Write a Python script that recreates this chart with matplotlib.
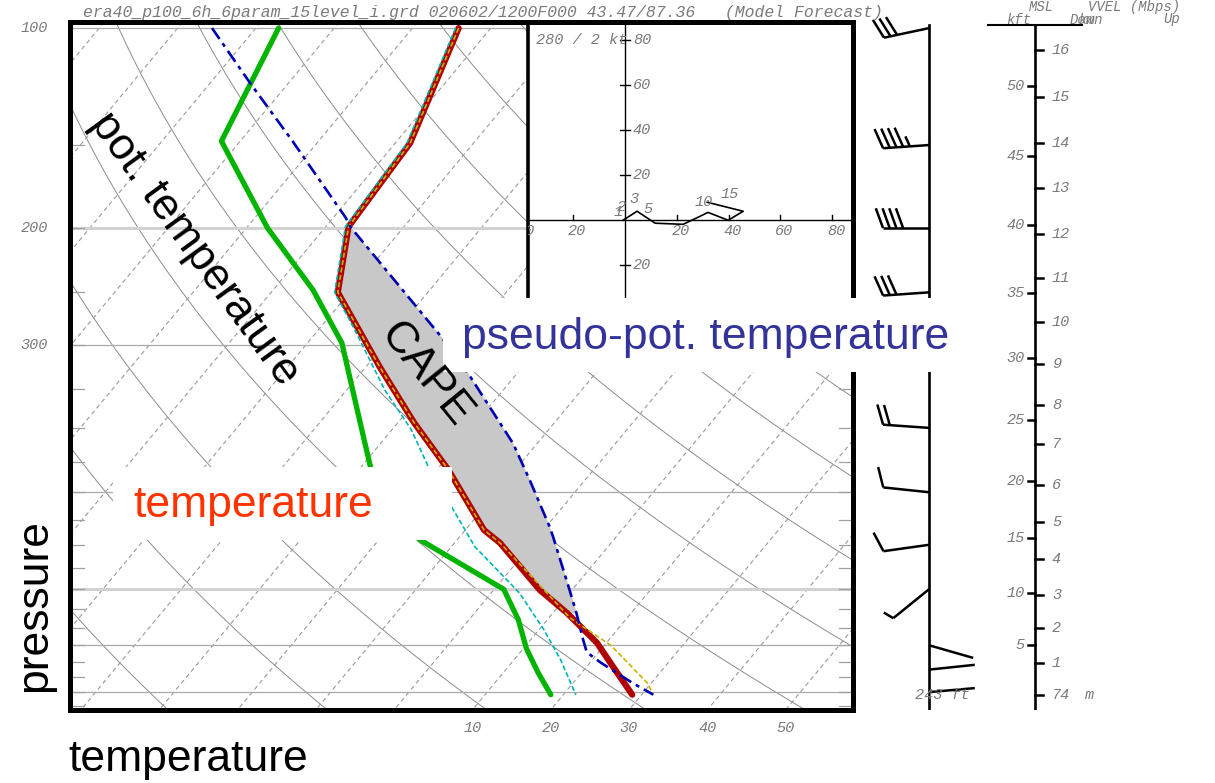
import numpy as np
import matplotlib
matplotlib.use("Agg")
import matplotlib.pyplot as plt
from matplotlib.patches import Rectangle

plt.rcParams['font.family'] = ['Liberation Sans', 'DejaVu Sans']

W, H = 1215, 783
P_BOT, P_TOP = 1064.0, 97.9
SKEW = 30.6          # deg C shift per unit of ln p
PX_LNP = 688 / np.log(P_BOT / P_TOP)

# --- sounding, pressure in hPa, temperature in deg C ---
temp_p = [100, 149, 199, 250, 324, 393, 463, 570, 596, 702, 760, 843, 916, 1009]
temp_t = [-64.1, -58.1, -57.1, -51.5, -38.2, -27.9, -18.5, -7.6, -4.2, 5.9, 11.8, 18.8, 23.4, 28.8]

dew_p = [100, 148, 200, 248, 298, 399, 458, 590, 700, 778, 860, 934, 1009]
dew_t = [-87.1, -82.4, -67.3, -54.9, -45.6, -34.2, -28.8, -14.7, 1.2, 6.3, 10.4, 14.4, 18.4]

wetb_p = [100, 149, 199, 250, 285, 351, 402, 458, 528, 604, 709, 805, 893, 1009]
wetb_t = [-64.5, -58.5, -57.5, -51.9, -45.3, -35.1, -27.6, -21.4, -14.0, -7.0, 3.6, 10.6, 15.9, 21.6]

virt_p = [100, 149, 199, 250, 324, 393, 463, 570, 596, 709, 773, 851, 969, 1003]
virt_t = [-64.1, -58.1, -57.1, -51.5, -38.2, -27.9, -18.5, -7.6, -4.2, 7.1, 12.7, 20.9, 29.5, 31.2]

parcel_p = [100, 121, 147, 193, 199, 292, 329, 422, 479, 562, 583, 702, 760, 834, 871, 902, 927, 970, 1009]
parcel_t = [-95.6, -84.9, -73.7, -58.4, -56.9, -33.5, -26.6, -13.1, -7.1, 0.3, 1.9, 9.7, 13.0,
            16.7, 18.5, 21.3, 23.7, 27.7, 31.5]

# winds
wind_p = [100, 150, 200, 250, 300, 400, 500, 600, 700, 850, 925, 1000]
wind_dir = [258, 266, 270, 266, 268, 274, 276, 262, 231, 106, 84, 85]
wind_spd = [30, 45, 40, 30, 35, 20, 10, 10, 5, 3, 3, 3]

# hodograph (kt)
hodo_u = [-0.8, 4.6, 11.6, 22.4, 29.0, 32.0, 39.8, 45.6, 31.7]
hodo_v = [0.0, 4.0, -1.3, -1.8, 1.8, 3.5, 0.0, 4.0, 8.0]
hodo_lab = ['1', '2', '3', '5', '10', '15']
hodo_lab_u = [-2.7, -1.5, 3.4, 9.0, 30.5, 40.5]
hodo_lab_v = [3.5, 6.0, 9.5, 4.9, 8.0, 11.5]

# height scale: km and pressure at that height
height_km = [0.074, 1, 2, 3, 4, 5, 6, 7, 8, 9, 10, 11, 12, 13, 14, 15, 16]
height_p = [1011, 903, 801, 714, 630, 554, 487.5, 423, 369, 320, 277, 238, 204, 174, 149, 127, 108]
height_kft = [5, 10, 15, 20, 25, 30, 35, 40, 45, 50]

theta_lines = np.arange(200, 521, 20)
iso_lines = np.arange(-160, 61, 10)
isobars = [100, 200, 300, 500, 700, 850, 1000]
temp_ticks = [10, 20, 30, 40, 50]

mono = dict(family='Liberation Mono', style='italic', color='#7a7a7a')


def skew(t, p):
    return np.asarray(t, float) + SKEW * np.log(P_BOT / np.asarray(p, float))


def fbox(x0, y0, x1, y1):
    return [x0 / W, 1 - y1 / H, (x1 - x0) / W, (y1 - y0) / H]


fig = plt.figure(figsize=(W / 100, H / 100), dpi=100)
ax = fig.add_axes(fbox(70, 22, 853, 710))
ax.set_xlim((70 - 394) / 7.83, (853 - 394) / 7.83)
ax.set_ylim(np.log(P_BOT), np.log(P_TOP))

pp = np.geomspace(P_TOP, P_BOT, 200)
for th in theta_lines:
    tt = th * (pp / 1000.0) ** 0.286 - 273.15
    ax.plot(skew(tt, pp), np.log(pp), color='#8c8c8c', lw=0.7, zorder=1)
for t in iso_lines:
    ax.plot(skew([t, t], [P_TOP, P_BOT]), np.log([P_TOP, P_BOT]), color='#9a9a9a',
            lw=0.8, dashes=(4, 3), zorder=1)
for p in isobars:
    thick = p in (200, 700)
    ax.axhline(np.log(p), color='#d2d2d2' if thick else '#aaaaaa', lw=2.2 if thick else 0.9, zorder=1)
for p in range(150, 1051, 50):
    ax.plot([0, 0.018], [np.log(p)] * 2, color='#a0a0a0', lw=0.9, transform=ax.get_yaxis_transform())
    ax.plot([0.982, 1], [np.log(p)] * 2, color='#a0a0a0', lw=0.9, transform=ax.get_yaxis_transform())
for p in (100, 200, 300):
    ax.text(-0.028, np.log(p), str(p), ha='right', va='center', fontsize=11,
            transform=ax.get_yaxis_transform(), **mono)

# CAPE area
lp = np.linspace(np.log(199), np.log(760), 300)
xr = np.interp(lp, np.log(temp_p), skew(temp_t, temp_p))
xb = np.interp(lp, np.log(parcel_p), skew(parcel_t, parcel_p))
ax.fill_betweenx(lp, xr, xb, where=xb >= xr, color='#c8c8c8', lw=0, zorder=2)

ax.plot(skew(dew_t, dew_p), np.log(dew_p), color='#00b400', lw=3.8, zorder=3, solid_capstyle='round')
ax.plot(skew(temp_t, temp_p), np.log(temp_p), color='#b00000', lw=4.5, zorder=4, solid_capstyle='round')
ax.plot(skew(wetb_t, wetb_p), np.log(wetb_p), color='#00b4b4', lw=1.2, dashes=(3, 1.5), zorder=5)
ax.plot(skew(virt_t, virt_p), np.log(virt_p), color='#c8b400', lw=1.2, dashes=(3, 1.5), zorder=5)
ax.plot(skew(parcel_t, parcel_p), np.log(parcel_p), color='#0000b4', lw=1.9,
        dashes=(5, 2, 1.5, 2), zorder=6)

ax.set_xticks(temp_ticks)
ax.set_xticklabels([str(t) for t in temp_ticks], fontsize=11, **mono)
ax.tick_params(axis='x', length=0, pad=8)
ax.set_yticks([])
for s in ax.spines.values():
    s.set_linewidth(3.6)

# hodograph inset
hx = fig.add_axes(fbox(528, 22, 853, 298), zorder=1)
hx.set_facecolor('white')
hx.set_xlim(-37.5, 88)
hx.set_ylim(-34.5, 88)
hx.set_xticks([])
hx.set_yticks([])
hx.spines['bottom'].set_visible(False)
hx.spines['left'].set_linewidth(2.6)
hx.spines['top'].set_linewidth(3.6)
hx.spines['right'].set_linewidth(3.6)
hx.axhline(0, color='black', lw=1.0)
hx.axvline(0, color='black', lw=1.0)
for v in (-40, -20, 20, 40, 60, 80):
    hx.plot([v, v], [0, 2.5], color='black', lw=1.0)
    hx.text(v + 1.5, -1.5, str(abs(v)), ha='center', va='top', fontsize=11, clip_on=True, **mono)
for v in (-20, 20, 40, 60, 80):
    hx.plot([-2, 2], [v, v], color='black', lw=1.0)
    hx.text(3, v, str(abs(v)), ha='left', va='center', fontsize=11, **mono)
hx.plot(hodo_u, hodo_v, color='black', lw=1.2)
for lab, u, v in zip(hodo_lab, hodo_lab_u, hodo_lab_v):
    hx.text(u, v, lab, ha='center', va='center', fontsize=11, **mono)
hx.text(-34.5, 80, '280 / 2 kt', ha='left', va='center', fontsize=11, **mono)

# wind barbs
wx = fig.add_axes(fbox(860, 22, 990, 710))
wx.set_xlim(0, 130)
wx.set_ylim(np.log(P_BOT), np.log(P_TOP))
wx.axis('off')
STAFF = 69


def barb(p, wdir, spd):
    lp0 = np.log(p)
    d = np.deg2rad(wdir)
    ux, uy = np.sin(d), np.cos(d)
    a = np.deg2rad(70)
    bx, by = ux * np.cos(a) + uy * np.sin(a), -ux * np.sin(a) + uy * np.cos(a)
    L = 46.0

    def seg(x0, y0, x1, y1):
        wx.plot([STAFF + x0, STAFF + x1], [lp0 - y0 / PX_LNP, lp0 - y1 / PX_LNP],
                color='black', lw=1.8, solid_capstyle='butt', clip_on=False)

    seg(0, 0, L * ux, L * uy)
    pos = L
    for _ in range(spd // 10):
        seg(pos * ux, pos * uy, pos * ux + 21 * bx, pos * uy + 21 * by)
        pos -= 6.7
    if spd % 10 >= 5:
        seg(pos * ux, pos * uy, pos * ux + 11 * bx, pos * uy + 11 * by)


wx.plot([STAFF, STAFF], [np.log(99), np.log(P_BOT)], color='black', lw=1.9)
for p, d, s in zip(wind_p, wind_dir, wind_spd):
    barb(p, d, s)
wx.text(55, np.log(1011), '243 ft', ha='left', va='center', fontsize=11, **mono)

# height scale
zx = fig.add_axes(fbox(985, 22, 1215, 710))
zx.set_xlim(0, 230)
zx.set_ylim(np.log(P_BOT), np.log(P_TOP))
zx.axis('off')
zx.plot([50, 50], [np.log(99), np.log(P_BOT)], color='black', lw=1.9)
zx.plot([3, 97], [np.log(99), np.log(99)], color='black', lw=1.5)
for km, p in zip(height_km, height_p):
    zx.plot([50, 58], [np.log(p)] * 2, color='black', lw=1.8)
    lab = '74' if km < 1 else str(km)
    zx.text(67, np.log(p), lab, ha='left', va='center', fontsize=11, **mono)
zx.text(100, np.log(height_p[0]), 'm', ha='left', va='center', fontsize=11, **mono)
kft_lnp = np.interp(np.array(height_kft) * 0.3048, height_km, np.log(height_p))
for kft, lnp in zip(height_kft, kft_lnp):
    zx.plot([43, 50], [lnp, lnp], color='black', lw=1.8)
    zx.text(40, lnp, str(kft), ha='right', va='center', fontsize=11, **mono)


def ftext(x, y, s, **kw):
    fig.text(x / W, 1 - y / H, s, **kw)


ftext(83, 12, 'era40_p100_6h_6param_15level_i.grd 020602/1200F000 43.47/87.36   (Model Forecast)',
      fontsize=11.9, va='center', **mono)
ftext(1041, 7, 'MSL', ha='center', va='center', fontsize=10, **mono)
ftext(1088, 7, 'VVEL (Mbps)', ha='left', va='center', fontsize=10, **mono)
ftext(1006, 19.5, 'kft', ha='left', va='center', fontsize=10, **mono)
ftext(1070, 19.5, 'Down', ha='left', va='center', fontsize=10, **mono)
ftext(1078, 19.5, 'km', ha='left', va='center', fontsize=10, **mono)
ftext(1163, 19.5, 'Up', ha='left', va='center', fontsize=10, **mono)

# annotation boxes and labels
for b in (fbox(443, 298, 950, 372), fbox(113, 467, 452, 540)):
    fig.add_artist(Rectangle((b[0], b[1]), b[2], b[3], transform=fig.transFigure,
                             facecolor='white', edgecolor='none', zorder=10))

big = dict(fontsize=32, zorder=11)
ftext(462, 337, 'pseudo-pot. temperature', color='#333399', ha='left', va='center', **big)
ftext(133, 505, 'temperature', color='#ff3300', ha='left', va='center', **big)
ftext(195, 249, 'pot. temperature', color='black', ha='center', va='center', rotation=-54,
      rotation_mode='anchor', **big)
ftext(426, 375, 'CAPE', color='black', ha='center', va='center', rotation=-51,
      rotation_mode='anchor', **big)
ftext(35, 605, 'pressure', color='black', ha='center', va='center', rotation=90, **big)
ftext(68, 760, 'temperature', color='black', ha='left', va='center', **big)

fig.savefig('out.png', dpi=100)
